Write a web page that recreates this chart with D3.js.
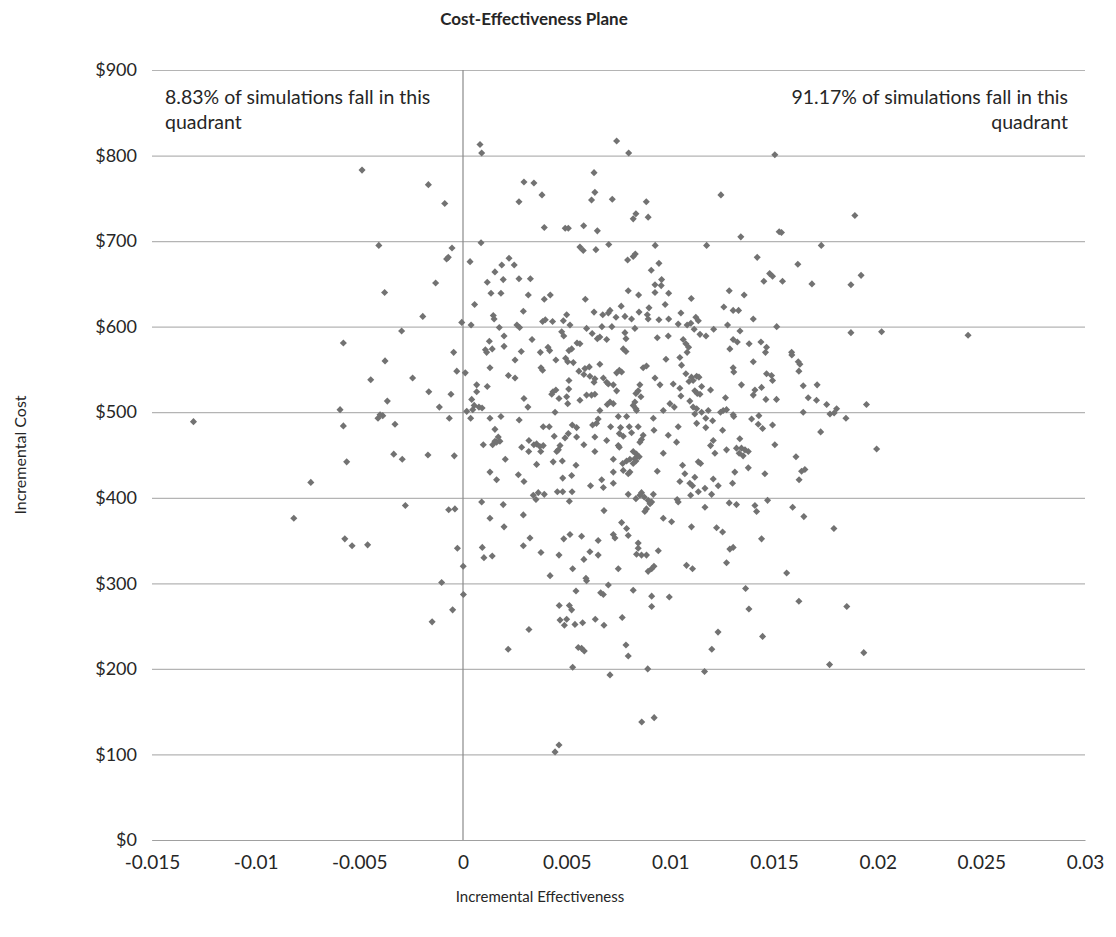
<!DOCTYPE html>
<html>
<head>
<meta charset="utf-8">
<script src="https://cdn.jsdelivr.net/npm/d3@7"></script>
<style>
  body { margin: 0; background: #fff; }
  text { font-family: Lato, "Open Sans", sans-serif; fill: #262626; }
</style>
</head>
<body>
<div id="chart"></div>
<script>
// x tick values and y tick values
const xTicks = [-0.015, -0.01, -0.005, 0, 0.005, 0.01, 0.015, 0.02, 0.025, 0.03];
const yTicks = [0, 100, 200, 300, 400, 500, 600, 700, 800, 900];

const leftNote = ["8.83% of simulations fall in this", "quadrant"];
const rightNote = ["91.17% of simulations fall in this", "quadrant"];

// simulations: [incremental effectiveness, incremental cost]
const westSims = [
  [-0.0130,489],[-0.00445,538],[-0.00593,503],[-0.0041,493],[-0.00577,484],[-0.00561,442],[-0.00734,418],
  [-0.00816,376],[-0.0057,352],[-0.00535,344],[-0.0046,345],[-0.00487,783],[-0.00406,695],[-0.00577,581],
  [-0.00167,766],[-0.00088,744],[-0.00053,692],[-0.00071,681],[-0.00079,679],[-0.00132,651],[-0.00378,640],
  [-0.00194,612],[-0.00006,605],[-0.00296,595],[-0.00045,570],
  [-0.00376,560],[-0.0003,548],[-0.00243,540],[-0.00165,524],[-0.00058,521],[-0.00365,513],[-0.004,497],
  [-0.00387,496],[-0.00114,506],[-0.00066,493],[-0.00328,486],[-0.00334,451],[-0.00293,445],[-0.00169,450],
  [-0.00042,449],[-0.00278,391],[-0.00069,386],[-0.00039,387],[-0.00027,341],[-0.00103,301],[-0.0005,269],
  [-0.00149,255]
];

const eastSims = [
  [0.00082,813],[0.0009,803],[0.00294,769],[0.00342,768],[0.00381,754],[0.0027,746],[0.00392,716],[0.00493,715],
  [0.00508,715],[0.00087,698],[0.00034,676],[0.00222,680],[0.00187,672],[0.00247,672],[0.00154,664],[0.0027,656],
  [0.00325,656],[0.00194,655],[0.00117,652],[0.00135,639],[0.00183,639],[0.00315,637],[0.00421,637],[0.00392,632],
  [0.00056,626],[0.00291,618],[0.00146,613],[0.0015,609],[0.005,614],[0.00484,607],[0.00039,602],[0.00175,599],
  [0.0026,602],[0.00273,599],[0.00384,606],[0.00397,608],[0.00432,606],[0.00516,602],[0.00127,583],[0.00198,589],
  [0.00333,585],[0.00476,594],[0.00486,589],[0.0055,581],[0.00108,573],[0.00114,570],[0.00141,574],[0.00198,577],
  [0.00281,571],[0.00373,570],[0.0041,576],[0.00418,572],[0.00511,572],[0.00524,574],
  [0.00741,817],[0.00799,803],[0.01504,801],[0.00632,780],[0.00636,757],[0.0062,748],[0.0072,749],[0.00884,746],
  [0.01244,754],[0.00834,732],[0.00821,726],[0.00893,728],[0.00582,718],[0.00648,712],[0.01525,711],[0.0134,705],
  [0.00564,693],[0.0058,689],[0.00641,690],[0.00703,696],[0.00927,695],[0.01175,695],[0.00831,685],[0.00821,682],
  [0.00794,678],[0.01419,681],[0.00945,674],[0.00908,666],[0.01479,662],[0.01493,659],[0.01451,653],[0.00926,649],
  [0.00958,655],[0.00956,648],[0.00926,640],[0.00797,642],[0.00847,637],[0.00992,639],[0.0059,632],[0.01284,642],
  [0.01356,637],[0.01101,633],[0.00975,626],[0.00763,624],[0.01258,623],[0.01303,619],[0.01329,619],[0.00897,622],
  [0.00889,614],[0.00849,617],[0.00632,617],[0.00674,614],[0.00701,616],[0.00709,619],[0.00738,611],[0.00781,612],
  [0.00813,609],[0.00893,609],[0.00945,608],[0.00992,609],[0.01051,616],[0.01123,611],[0.01135,607],[0.014,609],
  [0.00596,598],[0.0067,600],[0.00718,600],[0.00829,598],[0.00781,593],[0.00786,586],[0.01038,603],[0.01081,602],
  [0.01099,604],[0.01115,597],[0.01209,597],[0.01276,602],[0.01336,595],[0.01513,600],[0.00623,592],[0.00648,586],
  [0.0066,588],[0.00693,585],[0.00937,587],[0.0099,589],[0.01143,591],[0.01172,589],[0.01303,585],[0.01323,582],
  [0.0138,580],[0.01437,582],[0.01062,585],[0.01075,580],[0.00564,580],[0.00773,574],[0.00786,571],[0.01088,576],
  [0.01081,570],[0.01287,574],[0.01464,576],[0.01459,570],
  [0.0189,730],[0.01536,710],[0.01728,695],[0.01615,673],[0.01541,653],[0.01683,650],[0.01871,649],[0.0192,660],
  [0.01871,593],[0.02019,594],[0.02436,590],[0.01585,570],
  [0.00011,546],[0.0013,552],[0.00251,561],[0.00219,543],[0.00251,540],[0.00376,552],[0.00384,549],[0.00448,561],
  [0.00495,563],[0.00505,559],[0.00532,558],[0.00066,532],[0.00117,530],[0.00066,524],[0.00042,515],[0.00054,508],
  [0.00047,503],[0.00077,506],[0.00092,505],[0.00018,501],[0.00037,493],[0.00294,516],[0.00313,506],[0.00434,524],
  [0.00448,526],[0.00428,521],[0.00463,516],[0.005,518],[0.0051,527],[0.00511,537],[0.00505,510],[0.00559,548],
  [0.00444,500],[0.0013,493],[0.00183,495],[0.00271,491],[0.00154,480],[0.00387,483],[0.00416,483],[0.00527,485],
  [0.00548,482],[0.00508,475],[0.00492,470],[0.0044,472],[0.00548,471],[0.0017,471],[0.00154,466],[0.00162,465],
  [0.00178,466],[0.00143,462],[0.00098,462],[0.00318,467],[0.00342,462],[0.00355,463],[0.00371,460],[0.00387,461],
  [0.00375,454],[0.00283,459],[0.00317,454],[0.00468,461],[0.00452,454],[0.0046,456],[0.00204,445],[0.00435,442],
  [0.00479,443],[0.00355,439],[0.00545,438],[0.0013,430],[0.00267,427],[0.00162,421],[0.00294,419],[0.00524,426],
  [0.00481,423],[0.00339,403],[0.00352,398],[0.00363,406],[0.00392,404],[0.00455,407],[0.00481,407],[0.00526,407],
  [0.00513,396],[0.0009,395],[0.00194,392],[0.00291,380],[0.0013,376],[0.00198,366],[0.00323,353],[0.00516,357],
  [0.00486,352],[0.00093,342],[0.00141,332],[0.00101,330],[0.00291,344],[0.00376,336],[0.00463,333],[0.00529,317],
  [0.00001,320],[0.0042,309],
  [0.00002,287],[0.00318,246],[0.00218,223],[0.00545,291],[0.00464,274],[0.00513,274],[0.00524,269],[0.00468,257],
  [0.005,258],[0.00489,251],[0.0054,252],[0.00556,225],[0.00529,202],[0.00463,111],[0.00444,103],
  [0.00596,303],[0.00701,298],[0.00664,289],[0.00677,287],[0.00821,292],[0.0091,285],[0.00995,284],[0.0091,273],
  [0.01363,294],[0.01379,270],[0.00577,254],[0.00638,258],[0.0068,251],[0.00768,260],[0.0123,243],[0.01445,238],
  [0.00572,224],[0.00585,221],[0.00786,228],[0.00797,215],[0.012,223],[0.00709,193],[0.00891,200],[0.01165,197],
  [0.00862,138],[0.00922,143],
  [0.0162,279],[0.01851,273],[0.01933,219],[0.01768,205],
  [0.01586,567],[0.01617,559],[0.01625,556],[0.0162,548],[0.01641,531],[0.01708,532],[0.01665,517],[0.01705,514],
  [0.01754,509],[0.01802,504],[0.0179,499],[0.0177,498],[0.01946,509],[0.01641,500],[0.01847,493],[0.01725,477],
  [0.01995,457],[0.01606,448],[0.01649,433],[0.01633,431],[0.01621,421],[0.0159,389],[0.01644,378],[0.01789,364],
  [0.01561,312],
  [0.00588,551],[0.00609,553],[0.00583,544],[0.00612,542],[0.00636,539],[0.00632,535],[0.0066,556],[0.00754,549],
  [0.00741,546],[0.00765,547],[0.00869,552],[0.00885,554],[0.00979,562],[0.01046,564],[0.01054,555],[0.01075,545],
  [0.01303,552],[0.01306,547],[0.014,559],[0.01464,545],[0.01488,543],[0.01493,537],[0.00677,540],[0.00701,533],
  [0.00725,532],[0.00693,535],[0.00926,540],[0.0095,532],[0.01014,533],[0.01102,541],[0.01127,542],[0.0111,537],
  [0.01138,541],[0.0109,536],[0.01151,530],[0.01194,526],[0.01343,532],[0.0144,529],[0.01408,526],[0.014,520],
  [0.00853,532],[0.00845,525],[0.00834,522],[0.00858,518],[0.00741,525],[0.00596,520],[0.0062,520],[0.00636,521],
  [0.01046,528],[0.01051,519],[0.01118,525],[0.0113,522],[0.01143,521],[0.01266,517],[0.01461,515],[0.01512,515],
  [0.00709,512],[0.00725,510],[0.00696,509],[0.00829,512],[0.00821,508],[0.00834,504],[0.00837,502],[0.00998,510],
  [0.01019,506],[0.01094,513],[0.0111,506],[0.00564,514],[0.01255,502],[0.01242,500],[0.01271,503],[0.01303,497],
  [0.01306,495],[0.01127,504],[0.01118,498],[0.01151,500],[0.01183,502],[0.0066,502],[0.00652,492],[0.00966,502],
  [0.00749,495],[0.00789,495],[0.00918,493],[0.01171,493],[0.01204,490],[0.01392,492],[0.01427,496],[0.01127,487],
  [0.01171,482],[0.00625,485],[0.00644,487],[0.00712,483],[0.0076,482],[0.00802,483],[0.00754,475],[0.00773,472],
  [0.00813,476],[0.00845,483],[0.00921,479],[0.01038,483],[0.01252,479],[0.01424,486],[0.01445,481],[0.01493,485],
  [0.0099,473],[0.00869,473],[0.00861,468],[0.00853,465],[0.00693,467],[0.00636,471],[0.01207,467],[0.01194,461],
  [0.01215,452],[0.01335,469],[0.00583,462],[0.00749,461],[0.00754,459],[0.0103,465],[0.01271,456],[0.01319,458],
  [0.01343,458],[0.0136,456],[0.01376,454],[0.01332,452],[0.01351,449],[0.01504,462],[0.00636,454],[0.00821,454],
  [0.00837,451],[0.0085,448],[0.00829,446],[0.00805,445],[0.00789,443],[0.00834,443],[0.00821,440],[0.0077,440],
  [0.00966,452],[0.00725,445],[0.01135,442],[0.01146,440],[0.01059,438],[0.01376,435],[0.00773,432],[0.00805,430],
  [0.00797,428],[0.00725,430],[0.00937,431],[0.01311,430],[0.0107,428],[0.01118,424],[0.01094,417],[0.01107,414],
  [0.01456,428],[0.00669,421],[0.00677,412],[0.00725,417],[0.01046,419],[0.01207,422],[0.01231,414],[0.013,417],
  [0.00615,414],[0.01135,407],[0.01167,411],[0.01098,403],[0.01199,404],[0.00797,404],[0.00861,406],[0.00853,403],
  [0.00834,399],[0.00874,401],[0.00893,397],[0.0091,395],[0.00918,404],[0.00902,393],[0.00885,387],[0.00877,384],
  [0.01033,398],[0.01038,395],[0.01284,394],[0.01319,392],[0.01408,391],[0.01416,384],[0.01469,397],[0.01167,389],
  [0.0068,385],[0.00966,376],[0.01006,372],[0.00765,371],[0.00789,364],[0.00797,356],[0.01223,365],[0.01252,360],
  [0.01102,366],[0.00572,355],[0.00725,357],[0.00733,353],[0.0144,352],[0.00652,350],[0.00845,347],[0.00845,341],
  [0.00837,334],[0.00861,333],[0.00885,333],[0.00942,338],[0.00612,337],[0.00652,333],[0.01303,342],[0.01287,340],
  [0.00583,328],[0.01271,324],[0.00749,317],[0.0091,317],[0.00893,314],[0.00921,320],[0.01078,321],[0.01107,317],
  [0.00593,306]
];

const simulations = westSims.concat(eastSims);

const width = 1116, height = 937;
const margin = {top: 70, right: 31, bottom: 97, left: 152};

const svg = d3.select("#chart").append("svg")
    .attr("width", width)
    .attr("height", height)
    .style("background", "#fff");

const x = d3.scaleLinear()
    .domain([-0.015, 0.03])
    .range([margin.left, width - margin.right]);

const y = d3.scaleLinear()
    .domain([0, 900])
    .range([height - margin.bottom, margin.top]);

// horizontal gridlines + y labels
const yAxis = svg.append("g")
    .attr("transform", "translate(" + margin.left + ",0)")
    .call(d3.axisLeft(y)
        .tickValues(yTicks)
        .tickSizeInner(-(width - margin.left - margin.right))
        .tickSizeOuter(0)
        .tickPadding(15)
        .tickFormat(function(d) { return "$" + d; }));
yAxis.select(".domain").remove();
yAxis.selectAll(".tick line")
    .attr("stroke", "#b4b4b4")
    .attr("stroke-width", 1.2);
yAxis.selectAll(".tick text")
    .attr("font-size", "18px");

// x axis along $0
const xAxis = svg.append("g")
    .attr("transform", "translate(0," + y(0) + ")")
    .call(d3.axisBottom(x)
        .tickValues(xTicks)
        .tickSize(0)
        .tickPadding(16)
        .tickFormat(function(d) { return String(+d.toFixed(3)); }));
xAxis.select(".domain")
    .attr("stroke", "#a0a0a0")
    .attr("stroke-width", 1.2);
xAxis.selectAll(".tick text")
    .attr("font-size", "19px");

// vertical axis at zero effectiveness
svg.append("line")
    .attr("x1", x(0))
    .attr("x2", x(0))
    .attr("y1", y(900))
    .attr("y2", y(0))
    .attr("stroke", "#8a8a8a")
    .attr("stroke-width", 1.2);

// points
const diamond = d3.symbol().type(d3.symbolDiamond2).size(32);
svg.append("g")
    .selectAll("path")
    .data(simulations)
    .enter()
    .append("path")
    .attr("d", diamond)
    .attr("transform", function(d) { return "translate(" + x(d[0]) + "," + y(d[1]) + ")"; })
    .attr("fill", "#727272");

// title
svg.append("text")
    .attr("x", 534)
    .attr("y", 25)
    .attr("text-anchor", "middle")
    .attr("font-size", "17px")
    .attr("font-weight", "bold")
    .text("Cost-Effectiveness Plane");

// quadrant notes
svg.append("text")
    .attr("x", 165)
    .attr("y", 104)
    .attr("font-size", "19.5px")
    .selectAll("tspan")
    .data(leftNote)
    .enter()
    .append("tspan")
    .attr("x", 165)
    .attr("dy", function(d, i) { return i === 0 ? 0 : 25; })
    .text(function(d) { return d; });

svg.append("text")
    .attr("x", 1068)
    .attr("y", 104)
    .attr("font-size", "19.5px")
    .attr("text-anchor", "end")
    .selectAll("tspan")
    .data(rightNote)
    .enter()
    .append("tspan")
    .attr("x", 1068)
    .attr("dy", function(d, i) { return i === 0 ? 0 : 25; })
    .text(function(d) { return d; });

// axis titles
svg.append("text")
    .attr("transform", "translate(26,455) rotate(-90)")
    .attr("text-anchor", "middle")
    .attr("font-size", "16px")
    .text("Incremental Cost");

svg.append("text")
    .attr("x", 540)
    .attr("y", 902)
    .attr("text-anchor", "middle")
    .attr("font-size", "15px")
    .text("Incremental Effectiveness");
</script>
</body>
</html>
